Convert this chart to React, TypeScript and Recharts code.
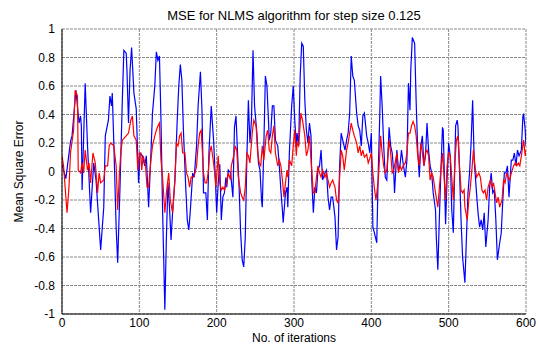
import { LineChart, Line, XAxis, YAxis, CartesianGrid } from 'recharts';

const chartTitle = 'MSE for NLMS algorithm for step size 0.125';
const xTicks = [0, 100, 200, 300, 400, 500, 600];
const yTicks = [-1, -0.8, -0.6, -0.4, -0.2, 0, 0.2, 0.4, 0.6, 0.8, 1];

// blue trace (iteration, value)
const blueIter = [0, 5, 11, 13, 18, 22, 24, 25, 26, 30, 33, 37, 41, 44, 50, 54, 56, 60, 62, 64, 65, 67, 70, 72, 75, 78, 80, 83, 84, 86, 88, 90, 93, 96, 99, 101, 104, 107, 109, 111, 112, 115, 117, 120, 122, 124, 126, 128, 130, 133, 135, 137, 139, 141, 143, 146, 149, 151, 153, 155, 157, 160, 162, 164, 166, 169, 171, 174, 176, 179, 181, 183, 186, 188, 190, 193, 196, 198, 200, 202, 204, 206, 208, 210, 212, 213, 215, 218, 221, 223, 225, 227, 229, 231, 233, 235, 237, 239, 241, 243, 245, 247, 249, 252, 254, 256, 258, 259, 261, 263, 265, 267, 268, 270, 272, 274, 276, 279, 281, 283, 285, 286, 289, 291, 292, 294, 297, 299, 301, 303, 304, 306, 308, 310, 312, 314, 316, 318, 320, 322, 323, 325, 327, 329, 331, 333, 335, 337, 340, 342, 344, 346, 348, 350, 353, 355, 357, 359, 361, 363, 366, 368, 370, 372, 374, 376, 378, 381, 383, 385, 387, 389, 391, 394, 396, 398, 400, 402, 404, 407, 409, 411, 412, 414, 416, 418, 420, 423, 425, 427, 429, 430, 433, 435, 437, 439, 441, 444, 446, 448, 450, 451, 453, 456, 458, 460, 462, 464, 466, 468, 470, 472, 474, 476, 478, 480, 483, 484, 486, 488, 490, 492, 493, 495, 496, 498, 500, 502, 504, 506, 508, 509, 511, 512, 514, 516, 518, 521, 523, 525, 527, 529, 531, 533, 536, 538, 540, 542, 544, 546, 548, 551, 553, 555, 557, 559, 561, 563, 566, 568, 570, 572, 574, 576, 578, 581, 583, 585, 587, 589, 591, 594, 596, 597, 599, 600];
const blueMse = [0.05, -0.05, 0.21, 0.25, 0.57, 0.34, 0.39, 0.32, -0.13, 0.62, 0.18, -0.29, 0.06, -0.06, -0.55, -0.25, 0.25, 0.36, 0.53, 0.46, 0.55, 0.2, -0.39, -0.64, -0.11, 0.5, 0.85, 0.83, 0.71, 0.34, 0.71, 0.87, 0.55, 0.44, -0.08, 0.13, 0.11, 0.04, 0.11, -0.13, -0.25, 0.13, 0.41, 0.6, 0.84, 0.78, 0.81, 0.36, -0.25, -0.97, -0.46, -0.08, -0.25, -0.48, -0.29, -0.06, 0.36, 0.6, 0.75, 0.64, 0.29, -0.11, -0.34, -0.41, -0.27, -0.01, -0.04, 0.18, 0.46, 0.7, 0.43, -0.15, -0.15, -0.34, 0.13, 0.46, 0.22, -0.01, -0.29, -0.08, 0.05, -0.34, -0.18, -0.15, -0.04, -0.11, 0.01, -0.01, -0.18, 0.31, 0.39, 0.13, -0.11, -0.43, -0.62, -0.67, -0.46, 0.08, 0.5, 0.2, 0.36, 0.85, 0.46, 0.27, 0.06, 0.01, -0.2, -0.25, 0.18, 0.67, 0.6, 0.36, 0.22, 0.27, 0.46, 0.46, 0.22, 0.18, 0.04, -0.13, -0.27, -0.36, -0.15, -0.11, -0.25, 0.13, 0.46, 0.6, 0.36, 0.18, 0.27, 0.18, 0.67, 0.9, 0.88, 0.5, 0.29, 0.2, 0.34, 0.25, -0.06, -0.29, -0.11, -0.15, 0.01, 0.04, 0.15, -0.06, -0.01, 0.01, -0.18, -0.27, -0.18, -0.18, -0.32, -0.55, -0.46, 0.04, 0.27, 0.22, 0.15, 0.22, 0.27, 0.41, 0.81, 0.67, 0.64, 0.41, 0.32, 0.29, 0.18, 0.39, 0.41, 0.25, 0.2, 0.13, 0.27, -0.39, -0.43, -0.5, 0.01, 0.41, 0.67, 0.46, 0.18, -0.04, -0.06, 0.31, 0.18, 0.13, -0.01, -0.15, 0.15, 0.01, 0.04, 0.15, 0.06, -0.04, 0.08, 0.62, 0.43, 0.71, 0.94, 0.9, 0.48, 0.15, -0.04, 0.18, 0.25, 0.04, 0.11, 0.34, 0.15, 0.04, -0.01, -0.15, -0.27, -0.46, -0.69, -0.32, 0.01, 0.31, 0.29, -0.15, -0.37, -0.04, 0.2, 0.11, -0.27, -0.43, 0.06, 0.32, 0.36, 0.32, 0.01, -0.34, -0.6, -0.78, -0.46, -0.15, -0.01, 0.2, 0.5, 0.08, -0.15, -0.29, -0.39, -0.34, -0.41, -0.29, -0.53, -0.34, -0.11, -0.01, -0.15, -0.13, -0.34, -0.62, -0.5, -0.43, -0.2, -0.01, -0.01, 0.04, -0.18, 0.08, 0.08, 0.13, 0.04, 0.15, 0.11, 0.15, 0.39, 0.4, 0.29, 0.18];

// red trace (iteration, value)
const redIter = [0, 2, 6.5, 9, 11, 15, 17, 20, 21, 24, 26, 28, 30, 33, 35, 37, 40, 43, 46, 48, 50, 54, 56, 59, 61, 63, 67, 70, 72, 74, 76, 78, 83, 86, 89, 91, 93, 96, 98, 100, 102, 103, 105, 108, 110, 112, 115, 117, 120, 122, 124, 126, 128, 130, 133, 135, 138, 140, 143, 146, 148, 150, 152, 154, 156, 159, 161, 163, 165, 167, 170, 172, 174, 176, 178, 180, 183, 185, 187, 189, 191, 193, 196, 198, 199, 201, 202, 204, 206, 208, 210, 213, 215, 218, 219, 222, 224, 226, 228, 231, 233, 235, 237, 239, 241, 243, 246, 248, 251, 253, 255, 257, 259, 261, 264, 266, 268, 270, 272, 274, 276, 279, 281, 283, 285, 287, 289, 291, 292, 294, 297, 299, 301, 303, 304, 306, 309, 311, 314, 316, 318, 320, 322, 325, 327, 329, 331, 333, 335, 337, 340, 342, 344, 346, 348, 350, 353, 355, 357, 359, 361, 363, 365, 368, 370, 372, 374, 376, 378, 381, 383, 385, 387, 389, 391, 394, 396, 398, 400, 402, 404, 406, 409, 411, 412, 414, 416, 418, 420, 423, 425, 427, 429, 430, 433, 435, 437, 439, 441, 444, 446, 448, 450, 452, 454, 456, 458, 460, 462, 464, 466, 468, 470, 472, 474, 476, 478, 480, 483, 486, 488, 490, 492, 494, 496, 498, 500, 502, 504, 506, 508, 510, 512, 514, 516, 518, 520, 521, 524, 526, 528, 530, 532, 534, 536, 539, 541, 543, 545, 547, 549, 551, 554, 556, 558, 560, 562, 564, 566, 569, 571, 573, 575, 577, 579, 581, 584, 586, 588, 590, 592, 594, 597, 599, 600];
const redMse = [0.11, 0.04, -0.29, -0.11, 0.13, 0.29, 0.57, 0.53, 0.01, -0.01, 0.06, -0.01, 0.15, 0.01, 0.06, -0.08, 0.13, 0.06, -0.15, -0.01, -0.08, -0.06, 0.04, 0.04, 0.18, 0.2, 0.18, 0.04, -0.27, -0.04, 0.13, 0.22, 0.25, 0.27, 0.36, 0.39, 0.25, 0.22, 0.01, 0.13, 0.13, 0.01, 0.11, 0.04, -0.11, -0.11, 0.08, 0.18, 0.25, 0.29, 0.32, 0.34, 0.08, -0.04, -0.29, -0.15, -0.01, -0.2, -0.29, -0.06, 0.2, 0.18, 0.25, 0.27, 0.13, 0.13, -0.01, -0.04, -0.11, -0.04, -0.04, -0.01, 0.04, 0.18, 0.27, 0.29, -0.01, -0.08, -0.08, -0.01, 0.13, 0.18, 0.06, -0.04, -0.11, 0.04, 0.11, -0.08, -0.13, -0.11, -0.13, -0.08, -0.01, -0.06, 0.04, 0.11, 0.18, 0.15, -0.04, -0.15, -0.18, -0.2, -0.11, 0.13, 0.11, 0.06, 0.27, 0.36, 0.32, 0.13, 0.06, 0.04, 0.18, 0.08, 0.25, 0.29, 0.15, 0.13, 0.25, 0.32, 0.13, 0.04, 0.08, 0.04, -0.06, -0.18, -0.08, 0.01, -0.04, 0.08, 0.04, 0.18, 0.29, 0.11, 0.2, 0.18, 0.41, 0.36, 0.25, 0.11, 0.15, 0.25, 0.08, -0.15, -0.15, -0.04, 0.04, -0.01, -0.04, 0.01, -0.04, -0.01, -0.06, -0.11, -0.08, -0.06, -0.11, -0.2, -0.22, -0.04, 0.15, 0.11, 0.01, 0.15, 0.2, 0.27, 0.34, 0.29, 0.25, 0.2, 0.13, 0.18, 0.11, 0.15, 0.1, 0.12, 0.06, 0.09, 0.13, -0.01, -0.12, -0.2, -0.06, 0.13, 0.25, 0.13, 0.04, -0.01, 0.01, 0.22, 0.13, -0.01, 0.01, 0.04, 0.13, -0.01, 0.04, 0.01, 0.04, 0.06, 0.13, 0.27, 0.27, 0.32, 0.35, 0.32, 0.25, 0.11, 0.04, 0.2, 0.13, 0.04, 0.13, 0.15, 0.11, -0.06, -0.01, -0.04, -0.15, -0.25, -0.11, 0.01, 0.13, -0.03, -0.2, 0.04, 0.13, 0.11, -0.04, -0.2, 0.06, 0.22, 0.25, 0.04, -0.13, -0.15, -0.13, -0.25, -0.34, -0.2, -0.11, 0.01, 0.15, 0.04, -0.04, -0.01, -0.04, -0.13, -0.15, -0.13, -0.2, -0.11, -0.06, -0.11, -0.08, -0.15, -0.22, -0.18, -0.25, -0.2, -0.06, -0.08, -0.01, -0.04, -0.06, -0.01, 0.04, 0.06, 0.04, 0.06, 0.04, 0.11, 0.22, 0.11, 0.15];

const blueData = blueIter.map((it, i) => ({ it, mse: blueMse[i] }));
const redData = redIter.map((it, i) => ({ it, mse: redMse[i] }));

const font = '"Liberation Sans", Arial, sans-serif';
const tickStyle = { fontSize: 12, fill: '#000', fontFamily: font };

export default function App() {
  return (
    <div style={{ position: 'absolute', left: 0, top: 0, width: 538, height: 345, background: '#fff' }}>
      <div style={{ position: 'absolute', left: 62, width: 464, top: 8, textAlign: 'center', fontFamily: font, fontSize: 13, color: '#000' }}>
        {chartTitle}
      </div>
      <LineChart width={538} height={345} margin={{ top: 29, right: 12, bottom: 0, left: 0 }}>
        <CartesianGrid stroke="#888" strokeDasharray="3 1" />
        <XAxis
          dataKey="it"
          type="number"
          domain={[0, 600]}
          ticks={xTicks}
          allowDataOverflow
          height={31}
          tickLine={false}
          tickSize={0}
          tickMargin={4}
          axisLine={{ stroke: '#000' }}
          tick={tickStyle}
          label={{ value: 'No. of iterations', position: 'insideBottom', offset: 3, style: tickStyle }}
        />
        <XAxis xAxisId="top" orientation="top" type="number" domain={[0, 600]} height={0} tick={false} tickLine={false} axisLine={{ stroke: '#000' }} />
        <YAxis
          type="number"
          domain={[-1, 1]}
          ticks={yTicks}
          allowDataOverflow
          width={62}
          tickLine={false}
          tickSize={0}
          tickMargin={7}
          axisLine={{ stroke: '#000' }}
          tick={tickStyle}
          tickFormatter={(v: number) => String(Number(v.toFixed(1)))}
          label={{ value: 'Mean Square Error', angle: -90, position: 'insideLeft', offset: 19, style: { ...tickStyle, textAnchor: 'middle' } }}
        />
        <YAxis yAxisId="right" orientation="right" width={0} tick={false} tickLine={false} axisLine={{ stroke: '#000' }} />
        <Line data={blueData} dataKey="mse" stroke="#0000ff" strokeWidth={1.2} dot={false} isAnimationActive={false} />
        <Line data={redData} dataKey="mse" stroke="#ff0000" strokeWidth={1.2} dot={false} isAnimationActive={false} />
      </LineChart>
    </div>
  );
}
